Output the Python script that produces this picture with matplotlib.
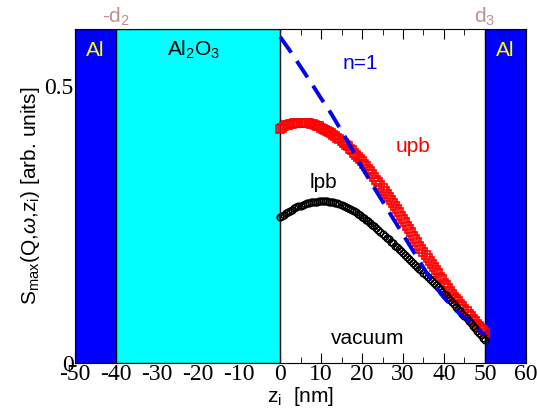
import numpy as np
import matplotlib
matplotlib.use('Agg')
import matplotlib.pyplot as plt

plt.rcParams['font.family'] = 'Liberation Sans'
plt.rcParams['font.serif'] = ['Liberation Serif', 'DejaVu Serif']
plt.rcParams['mathtext.fontset'] = 'custom'
plt.rcParams['mathtext.rm'] = 'Liberation Sans'
plt.rcParams['mathtext.it'] = 'Liberation Sans:italic'
plt.rcParams['axes.unicode_minus'] = False

# positions in the gap between the plates [nm]
z = np.arange(0, 50.5, 0.5)

upb = [0.423, 0.425, 0.427, 0.429, 0.430, 0.431, 0.432, 0.433, 0.433, 0.434,
       0.434, 0.434, 0.434, 0.434, 0.433, 0.432, 0.431, 0.430, 0.428, 0.427,
       0.425, 0.423, 0.421, 0.419, 0.417, 0.415, 0.412, 0.410, 0.407, 0.404,
       0.401, 0.398, 0.394, 0.391, 0.387, 0.384, 0.380, 0.376, 0.372, 0.368,
       0.364, 0.360, 0.355, 0.351, 0.346, 0.341, 0.336, 0.331, 0.326, 0.321,
       0.316, 0.311, 0.305, 0.300, 0.294, 0.289, 0.283, 0.278, 0.272, 0.266,
       0.260, 0.254, 0.248, 0.242, 0.236, 0.230, 0.224, 0.218, 0.212, 0.206,
       0.200, 0.195, 0.189, 0.184, 0.178, 0.173, 0.167, 0.162, 0.156, 0.151,
       0.145, 0.140, 0.135, 0.130, 0.125, 0.120, 0.115, 0.111, 0.106, 0.102,
       0.097, 0.093, 0.088, 0.084, 0.079, 0.075, 0.071, 0.067, 0.063, 0.059,
       0.055]

lpb = [0.264, 0.266, 0.268, 0.271, 0.273, 0.275, 0.277, 0.279, 0.281, 0.283,
       0.284, 0.286, 0.287, 0.288, 0.289, 0.290, 0.290, 0.291, 0.291, 0.292,
       0.292, 0.292, 0.292, 0.292, 0.291, 0.291, 0.290, 0.289, 0.288, 0.287,
       0.285, 0.284, 0.282, 0.280, 0.278, 0.276, 0.274, 0.272, 0.269, 0.267,
       0.264, 0.262, 0.259, 0.256, 0.253, 0.250, 0.247, 0.244, 0.240, 0.237,
       0.233, 0.230, 0.226, 0.223, 0.219, 0.216, 0.212, 0.209, 0.205, 0.202,
       0.198, 0.195, 0.191, 0.188, 0.184, 0.181, 0.177, 0.174, 0.170, 0.167,
       0.163, 0.159, 0.155, 0.152, 0.148, 0.144, 0.140, 0.137, 0.133, 0.129,
       0.125, 0.122, 0.118, 0.114, 0.110, 0.106, 0.101, 0.097, 0.093, 0.089,
       0.085, 0.081, 0.076, 0.072, 0.067, 0.063, 0.058, 0.054, 0.050, 0.045,
       0.041]

z_n1 = [0, 2.5, 5, 7.5, 10, 12.5, 15, 17.5, 20, 22.5, 25, 27.5, 30, 32.5, 35,
        37.5, 40, 42.5, 45, 47.5, 50]
n1 = [0.589, 0.563, 0.535, 0.507, 0.478, 0.450, 0.419, 0.387, 0.353, 0.322,
      0.292, 0.262, 0.232, 0.202, 0.172, 0.143, 0.118, 0.098, 0.082, 0.066,
      0.050]

xticks = list(range(-50, 61, 10))
yticks = [0, 0.5]
yticklabels = ['0', '0.5']

# layers: (start, end, colour)
layers = [(-50, -40, '#0000ff'), (-40, 0, '#00ffff'), (50, 60, '#0000ff')]

fig = plt.figure(figsize=(5.37, 4.19), dpi=100)
ax = fig.add_axes([0.1397, 0.1337, 0.8398, 0.7971])

for a, b, c in layers:
    ax.axvspan(a, b, facecolor=c, edgecolor='black', lw=1.0, zorder=3)

ax.plot(z, upb, 's', mfc='none', mec='red', ms=5.3, mew=1.2, zorder=4)
ax.plot(z, lpb, 'o', mfc='none', mec='black', ms=4.8, mew=1.1, zorder=4)
ax.plot(z_n1, n1, color='#0000ee', lw=2.8, ls=(0, (5, 2.6)), zorder=5)

ax.set_xlim(-50, 60)
ax.set_ylim(0, 0.603)
serif = dict(family='serif', fontsize=17)
ax.set_xticks(xticks)
ax.set_xticklabels([str(t) for t in xticks], **serif)
ax.set_xticks(np.arange(-50, 61, 5), minor=True)
ax.set_yticks(yticks)
ax.set_yticklabels(yticklabels, **serif)
ax.tick_params(which='both', direction='in', top=True, right=True, pad=1)
ax.tick_params(which='major', length=7)
ax.tick_params(which='minor', length=4)

ax.set_xlabel(r'z$_\mathregular{i}$  [nm]', fontsize=15, labelpad=0)
ax.set_ylabel(r'S$_\mathregular{max}$(Q,$\omega$,z$_\mathregular{i}$) [arb. units]',
              fontsize=15, labelpad=2)

ax.text(-45, 0.565, 'Al', color='yellow', fontsize=15, ha='center', va='center', zorder=6)
ax.text(55, 0.565, 'Al', color='yellow', fontsize=15, ha='center', va='center', zorder=6)
ax.text(-21, 0.565, r'Al$_\mathregular{2}$O$_\mathregular{3}$', color='black', fontsize=15,
        ha='center', va='center', zorder=6)
ax.text(19.5, 0.54, 'n=1', color='#0000ee', fontsize=15, ha='center', va='center', zorder=6)
ax.text(32.5, 0.39, 'upb', color='red', fontsize=15, ha='center', va='center', zorder=6)
ax.text(10.5, 0.325, 'lpb', color='black', fontsize=15, ha='center', va='center', zorder=6)
ax.text(21.5, 0.045, 'vacuum', color='black', fontsize=15, ha='center', va='center', zorder=6)
ax.text(-40, 0.625, r'-d$_\mathregular{2}$', color='#c09090', fontsize=15,
        ha='center', va='center', clip_on=False)
ax.text(50, 0.625, r'd$_\mathregular{3}$', color='#c09090', fontsize=15,
        ha='center', va='center', clip_on=False)

fig.savefig('out.png', dpi=100)
